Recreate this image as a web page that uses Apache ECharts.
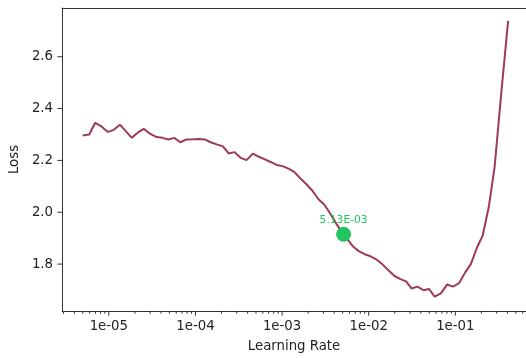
<!DOCTYPE html>
<html><head><meta charset="utf-8">
<script src="https://cdn.jsdelivr.net/npm/echarts@6/dist/echarts.min.js"></script>
<style>html,body{margin:0;padding:0;background:#fff}#c{width:526px;height:358px}</style>
</head><body><div id="c"></div>
<script>
const learningRates = [4.99e-6,5.94e-6,6.96e-6,8.15e-6,9.74e-6,1.13e-5,1.34e-5,1.57e-5,1.84e-5,2.19e-5,2.53e-5,2.98e-5,3.56e-5,4.18e-5,4.86e-5,5.69e-5,6.67e-5,7.88e-5,9.41e-5,1.10e-4,1.28e-4,1.50e-4,1.76e-4,2.08e-4,2.41e-4,2.83e-4,3.32e-4,3.89e-4,4.61e-4,5.40e-4,6.33e-4,7.48e-4,8.77e-4,1.03e-3,1.20e-3,1.38e-3,1.62e-3,1.91e-3,2.24e-3,2.63e-3,3.08e-3,3.61e-3,4.18e-3,4.83e-3,5.66e-3,6.55e-3,7.67e-3,8.99e-3,1.05e-2,1.24e-2,1.45e-2,1.70e-2,1.99e-2,2.33e-2,2.70e-2,3.12e-2,3.66e-2,4.29e-2,4.96e-2,5.78e-2,6.81e-2,8.03e-2,9.41e-2,0.111,0.130,0.151,0.178,0.207,0.243,0.284,0.338,0.407];
const losses = [2.296,2.300,2.345,2.332,2.310,2.317,2.338,2.313,2.287,2.309,2.322,2.303,2.290,2.287,2.281,2.287,2.270,2.281,2.282,2.283,2.281,2.270,2.262,2.254,2.227,2.232,2.210,2.201,2.226,2.214,2.204,2.193,2.182,2.177,2.167,2.156,2.131,2.108,2.083,2.050,2.029,1.994,1.958,1.927,1.896,1.869,1.850,1.838,1.830,1.817,1.798,1.775,1.754,1.742,1.733,1.706,1.713,1.699,1.704,1.674,1.687,1.721,1.713,1.727,1.768,1.800,1.864,1.910,2.019,2.173,2.454,2.738];
const suggestedLr = 5.13e-3;
const suggestedLoss = 1.915;
const suggestedLabel = '5.13E-03';
const xMajorTicks = [1e-5,1e-4,1e-3,1e-2,1e-1];
const xMinorTicks = [3e-6,4e-6,5e-6,6e-6,7e-6,8e-6,9e-6,2e-5,3e-5,4e-5,5e-5,6e-5,7e-5,8e-5,9e-5,2e-4,3e-4,4e-4,5e-4,6e-4,7e-4,8e-4,9e-4,2e-3,3e-3,4e-3,5e-3,6e-3,7e-3,8e-3,9e-3,2e-2,3e-2,4e-2,5e-2,6e-2,7e-2,8e-2,9e-2,0.2,0.3,0.4,0.5,0.6];
const yMajorTicks = [1.8,2.0,2.2,2.4,2.6];
const xMin = 2.884e-6, xMax = 0.6546;
const yMin = 1.619, yMax = 2.788;

const FONT = 'DejaVu Sans';
const TXT = '#222';
const AX = '#333';
const LINE = '#9e3a55';
const GREEN = '#22c55e';

function fmtX(v){
  const l = Math.log10(v); const e = Math.round(l);
  if (Math.abs(l - e) > 1e-6) return '';
  const a = Math.abs(e);
  return '1e' + (e < 0 ? '-' : '+') + (a < 10 ? '0' + a : '' + a);
}
function fmtY(v){
  return Math.abs(v*5 - Math.round(v*5)) < 1e-6 ? v.toFixed(1) : '';
}

function tickSeries(values, kind, len){
  return {
    type: 'custom', silent: true, clip: false, z: 5,
    data: values.map(v => kind === 'x' ? [v, yMin] : [xMin, v]),
    renderItem: function(params, api){
      const cs = params.coordSys;
      const p = api.coord([api.value(0), api.value(1)]);
      if (kind === 'x') {
        const b = cs.y + cs.height;
        return {type:'line', shape:{x1:p[0], y1:b, x2:p[0], y2:b+len}, style:{stroke:AX, lineWidth:1}};
      } else {
        const l = cs.x;
        return {type:'line', shape:{x1:l, y1:p[1], x2:l-len, y2:p[1]}, style:{stroke:AX, lineWidth:1}};
      }
    }
  };
}

const chart = echarts.init(document.getElementById('c'), null, {renderer:'canvas'});
chart.setOption({
  animation: false,
  backgroundColor: '#fff',
  grid: {left: 60, right: 0, top: 8, bottom: 46, containLabel: false},
  xAxis: [{
    type: 'log', logBase: 10, min: xMin, max: xMax,
    name: 'Learning Rate', nameLocation: 'middle', nameGap: 29,
    nameTextStyle: {fontFamily: FONT, fontSize: 13.3, color: TXT},
    axisLine: {show: true, lineStyle: {color: AX, width: 1}},
    axisTick: {show: false},
    splitLine: {show: false}, minorTick: {show: false},
    axisLabel: {formatter: fmtX, fontFamily: FONT, fontSize: 13.3, color: TXT, margin: 9, showMinLabel: false, showMaxLabel: false}
  }, {
    type: 'log', logBase: 10, min: xMin, max: xMax, position: 'top',
    axisLine: {show: true, onZero: false, lineStyle: {color: AX, width: 1}},
    axisTick: {show: false}, axisLabel: {show: false}, splitLine: {show: false}
  }],
  yAxis: {
    type: 'value', min: yMin, max: yMax,
    name: 'Loss', nameLocation: 'middle', nameGap: 39,
    nameTextStyle: {fontFamily: FONT, fontSize: 13.3, color: TXT},
    axisLine: {show: true, lineStyle: {color: AX, width: 1}},
    axisTick: {show: false},
    splitLine: {show: false},
    axisLabel: {formatter: fmtY, fontFamily: FONT, fontSize: 13.3, color: TXT, margin: 9, showMinLabel: false, showMaxLabel: false}
  },
  series: [
    {
      type: 'line', data: learningRates.map((x, i) => [x, losses[i]]),
      showSymbol: false, symbol: 'none', smooth: false,
      lineStyle: {color: LINE, width: 2}, z: 3
    },
    {
      type: 'scatter', data: [[suggestedLr, suggestedLoss]],
      symbol: 'circle', symbolSize: 15, itemStyle: {color: GREEN, opacity: 1}, z: 4,
      label: {show: true, position: 'top', distance: 1, formatter: suggestedLabel,
        fontFamily: FONT, fontSize: 10.7, color: GREEN}
    },
    tickSeries(xMajorTicks, 'x', 4.7),
    tickSeries(xMinorTicks, 'x', 2.7),
    tickSeries(yMajorTicks, 'y', 4.7)
  ]
});
</script></body></html>
